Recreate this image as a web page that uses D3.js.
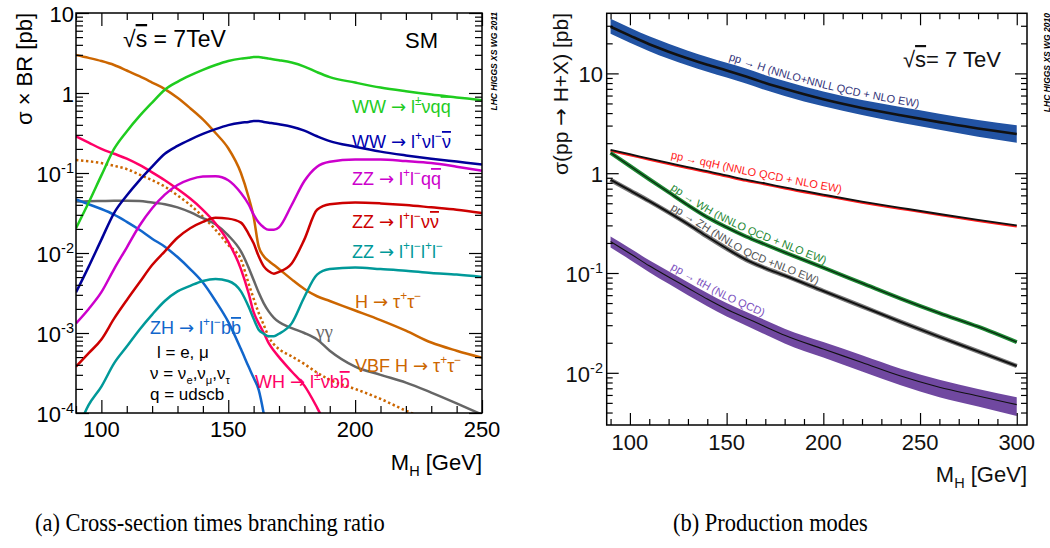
<!DOCTYPE html>
<html>
<head>
<meta charset="utf-8">
<script src="https://cdn.jsdelivr.net/npm/d3@7"></script>
<style>
  body { margin: 0; background: #fff; }
  text { font-family: "Liberation Sans", Arial, Helvetica, sans-serif; }
</style>
</head>
<body>
<svg id="chart" width="1050" height="548"></svg>
<script>
// ---- left panel: sigma x BR, 7 TeV ----
const massL = [90, 95, 100, 105, 110, 115, 120, 125, 130, 135, 140, 145, 150, 155, 158, 160, 162, 164, 166, 168, 170, 175, 180, 185, 190, 200, 210, 220, 230, 240, 250];
const wwLnuqq = [0.0204, 0.0427, 0.0933, 0.200, 0.331, 0.513, 0.759, 1.10, 1.38, 1.66, 1.95, 2.24, 2.51, 2.69, 2.75, 2.82, 2.82, 2.75, 2.69, 2.63, 2.57, 2.40, 2.14, 1.82, 1.58, 1.35, 1.17, 1.05, 0.955, 0.881, 0.813];
const wwLnulnu = [0.00322, 0.00675, 0.0147, 0.0316, 0.0523, 0.081, 0.12, 0.174, 0.218, 0.262, 0.308, 0.354, 0.397, 0.425, 0.435, 0.446, 0.446, 0.435, 0.425, 0.416, 0.406, 0.379, 0.338, 0.288, 0.25, 0.213, 0.185, 0.166, 0.151, 0.139, 0.128];
const zzLLqq = [0.00132, 0.002, 0.00324, 0.0063, 0.0117, 0.0219, 0.0363, 0.0537, 0.0708, 0.0832, 0.0902, 0.0912, 0.0813, 0.0562, 0.0407, 0.0302, 0.024, 0.0209, 0.0195, 0.0195, 0.0209, 0.0398, 0.0794, 0.12, 0.138, 0.148, 0.148, 0.141, 0.133, 0.12, 0.107];
const zzLLnunu = [0.00038, 0.00056, 0.00083, 0.00151, 0.00257, 0.00427, 0.00708, 0.0105, 0.0155, 0.0204, 0.0245, 0.0275, 0.0269, 0.024, 0.0174, 0.0132, 0.0091, 0.0068, 0.0059, 0.0055, 0.0058, 0.0074, 0.0148, 0.0347, 0.0407, 0.0427, 0.0417, 0.0398, 0.0372, 0.0347, 0.0316];
const zz4l = [0.0000562, 0.000126, 0.000214, 0.000417, 0.000676, 0.0011, 0.0017, 0.00251, 0.00331, 0.00389, 0.00447, 0.00473, 0.00447, 0.00331, 0.00214, 0.00151, 0.0011, 0.00098, 0.00091, 0.00091, 0.00098, 0.00132, 0.00282, 0.00537, 0.0063, 0.0066, 0.0063, 0.006, 0.00562, 0.00537, 0.00501];
const hTauTau = [2.99, 2.75, 2.51, 2.24, 1.91, 1.62, 1.35, 1.12, 0.871, 0.646, 0.468, 0.316, 0.204, 0.1, 0.0501, 0.0282, 0.012, 0.00912, 0.00794, 0.00708, 0.00631, 0.00468, 0.00355, 0.00288, 0.00251, 0.00191, 0.00145, 0.00107, 0.00076, 0.0006, 0.00049];
const vbfTauTau = [0.145, 0.14, 0.133, 0.123, 0.112, 0.0955, 0.0813, 0.0676, 0.0525, 0.0398, 0.0285, 0.0195, 0.0126, 0.0083, 0.00417, 0.00269, 0.00178, 0.00126, 0.00089, 0.00072, 0.00063, 0.00051, 0.00041, 0.00032, 0.00026, 0.0002, 0.00015, 0.000107, 0.0000794, 0.000063, 0.00005];
const gamgam = [0.0439, 0.0445, 0.0447, 0.0449, 0.0449, 0.0447, 0.0427, 0.0407, 0.0372, 0.0324, 0.0272, 0.0229, 0.0166, 0.0105, 0.0066, 0.0046, 0.0032, 0.00235, 0.00185, 0.00155, 0.00137, 0.00115, 0.001, 0.00083, 0.0006, 0.00038, 0.0003, 0.00024, 0.00018, 0.000132, 0.0000955];
const zhLLbb = [0.0468, 0.0407, 0.0355, 0.0302, 0.0245, 0.0195, 0.0151, 0.012, 0.0089, 0.0063, 0.00427, 0.00251, 0.00138, 0.00063, 0.00038, 0.000275, 0.000195, 0.0000977, 0.00004, 0.000016, null, null, null, null, null, null, null, null, null, null, null];
const whLnubb = [0.288, 0.24, 0.2, 0.174, 0.151, 0.126, 0.102, 0.0813, 0.0631, 0.0479, 0.0347, 0.0234, 0.0138, 0.0063, 0.00316, 0.00182, 0.00132, 0.001, 0.00074, 0.0006, 0.0005, 0.00033, 0.00022, 0.000117, 0.000056, null, null, null, null, null, null];

// ---- right panel: production modes, 7 TeV ----
const massR = [90, 100, 110, 120, 130, 140, 150, 160, 170, 180, 200, 220, 240, 260, 280, 300];
const ggH = [29.3, 23.9, 19.6, 16.5, 14.1, 12.2, 10.7, 9.3, 8.0, 7.0, 5.5, 4.5, 3.8, 3.25, 2.8, 2.47];
const ggHUp = [35.2, 28.7, 23.5, 19.8, 16.9, 14.6, 12.8, 11.2, 9.6, 8.4, 6.6, 5.4, 4.6, 3.95, 3.42, 3.02];
const ggHDn = [24.9, 20.3, 16.7, 14.0, 12.0, 10.4, 9.1, 7.9, 6.8, 5.95, 4.68, 3.83, 3.2, 2.72, 2.32, 2.02];
const qqH = [1.71, 1.55, 1.40, 1.27, 1.15, 1.05, 0.95, 0.86, 0.79, 0.72, 0.61, 0.52, 0.45, 0.39, 0.34, 0.30];
const WH = [1.6, 1.18, 0.87, 0.645, 0.478, 0.362, 0.287, 0.232, 0.193, 0.161, 0.113, 0.0792, 0.0555, 0.0397, 0.029, 0.0203];
const ZH = [0.857, 0.671, 0.525, 0.405, 0.309, 0.232, 0.176, 0.136, 0.112, 0.0944, 0.066, 0.0463, 0.0324, 0.0229, 0.0164, 0.0117];
const ttH = [0.207, 0.157, 0.118, 0.0912, 0.0708, 0.0548, 0.0434, 0.0355, 0.029, 0.0238, 0.0173, 0.0127, 0.00927, 0.00716, 0.00586, 0.0048];
const ttHUp = [0.232, 0.177, 0.134, 0.104, 0.081, 0.063, 0.050, 0.041, 0.0337, 0.0277, 0.0203, 0.0150, 0.0110, 0.0085, 0.0069, 0.0057];
const ttHDn = [0.180, 0.136, 0.102, 0.078, 0.060, 0.0465, 0.0366, 0.0298, 0.0242, 0.0197, 0.0142, 0.0103, 0.0075, 0.0057, 0.0046, 0.0037];

const xMajorL = [100, 150, 200, 250];
const xMajorR = [100, 150, 200, 250, 300];
const yMajorL = [10, 1, 0.1, 0.01, 0.001, 0.0001];
const yMajorR = [10, 1, 0.1, 0.01];
const yLabelsL = ['10', '1', '10^{-1}', '10^{-2}', '10^{-3}', '10^{-4}'];
const yLabelsR = ['10', '1', '10^{-1}', '10^{-2}'];

const svg = d3.select('#chart');

// small markup: ^{} superscript, _{} subscript, ~{} overline, arrows in DejaVu
function rich(t, str, fs) {
  const re = /([\^_~])\{([^}]*)\}|(→)|([^\^_~→]+)/g;
  let m, cur = 0;
  while ((m = re.exec(str)) !== null) {
    let off = 0, size = fs, txt = m[4], bar = false, arrow = false;
    if (m[1]) {
      txt = m[2];
      if (m[1] === '^') { off = -0.42 * fs; size = 0.66 * fs; }
      else if (m[1] === '_') { off = 0.28 * fs; size = 0.66 * fs; }
      else bar = true;
    } else if (m[3]) { txt = m[3]; arrow = true; }
    const ts = t.append('tspan').text(txt).attr('dy', off - cur).style('font-size', size + 'px');
    if (bar) ts.style('text-decoration', 'overline');
    if (arrow) ts.style('font-family', '"DejaVu Sans", sans-serif');
    cur = off;
  }
}

function label(x, y, str, fs, color, anchor) {
  const t = svg.append('text').attr('x', x).attr('y', y)
    .attr('fill', color || '#000').style('font-size', fs + 'px')
    .attr('text-anchor', anchor || 'start');
  rich(t, str, fs);
  return t;
}

function minorLog(lo, hi) {
  const out = [];
  for (let e = Math.floor(Math.log10(lo)); e <= Math.ceil(Math.log10(hi)); e++)
    for (let k = 2; k <= 9; k++) {
      const v = k * Math.pow(10, e);
      if (v > lo && v < hi) out.push(v);
    }
  return out;
}

function yMajorOf(y) {
  const [lo, hi] = y.domain();
  return [1e-4, 1e-3, 1e-2, 0.1, 1, 10].filter(v => v >= lo * 0.999 && v <= hi * 1.001);
}

function frame(g, x, y, xMajor, xMinor, yMinor, big, small) {
  const [x0, x1] = x.range(), [y1, y0] = y.range();
  const ax = [
    [d3.axisBottom(x), `translate(0,${y1})`, xMajor, xMinor],
    [d3.axisTop(x), `translate(0,${y0})`, xMajor, xMinor],
    [d3.axisLeft(y), `translate(${x0},0)`, yMajorOf(y), yMinor],
    [d3.axisRight(y), `translate(${x1},0)`, yMajorOf(y), yMinor]
  ];
  ax.forEach(([a, tr, maj, min]) => {
    g.append('g').attr('transform', tr).call(a.tickValues(maj).tickSize(-big).tickFormat(''))
      .call(s => s.select('.domain').remove());
    g.append('g').attr('transform', tr).call(a.tickValues(min).tickSize(-small).tickFormat(''))
      .call(s => s.select('.domain').remove());
  });
  g.selectAll('.tick line').attr('stroke', '#000').attr('stroke-width', 1.2);
  g.append('rect').attr('x', x0).attr('y', y0).attr('width', x1 - x0).attr('height', y1 - y0)
    .attr('fill', 'none').attr('stroke', '#000').attr('stroke-width', 1.5);
}

// ================= LEFT PANEL =================
const xL = d3.scaleLinear().domain([90, 250]).range([76, 482]);
const yL = d3.scaleLog().domain([1e-4, 10]).range([413, 13]);

svg.append('clipPath').attr('id', 'clipL').append('rect')
  .attr('x', 76).attr('y', 13).attr('width', 406).attr('height', 400);

const lineL = d3.line().defined(d => d[1] != null)
  .x(d => xL(d[0])).y(d => yL(d[1])).curve(d3.curveMonotoneX);

const curvesL = [
  [hTauTau, '#cc6600', null],
  [vbfTauTau, '#cc6600', '2.4,2.6'],
  [gamgam, '#666666', null],
  [zhLLbb, '#1166cc', null],
  [whLnubb, '#ff0066', null],
  [zz4l, '#009999', null],
  [zzLLnunu, '#cc0000', null],
  [zzLLqq, '#cc00cc', null],
  [wwLnulnu, '#000099', null],
  [wwLnuqq, '#1fcc1f', null]
];
const gL = svg.append('g').attr('clip-path', 'url(#clipL)');
curvesL.forEach(([vals, col, dash]) => {
  gL.append('path').datum(massL.map((m, i) => [m, vals[i]]))
    .attr('d', lineL).attr('fill', 'none').attr('stroke', col)
    .attr('stroke-width', 2.5).attr('stroke-dasharray', dash);
});

frame(svg.append('g'), xL, yL, xMajorL, d3.range(90, 251, 10).filter(v => v % 50),
  minorLog(1e-4, 10), 13, 7);

xMajorL.forEach(v => label(xL(v), 437, String(v), 22, '#000', 'middle'));
yMajorL.forEach((v, i) => label(74, yL(v) + 9, yLabelsL[i], 22, '#000', 'end'));

rich(svg.append('text').attr('transform', 'translate(32,13) rotate(-90)').attr('text-anchor', 'end')
  .style('font-size', '22px'), 'σ × BR [pb]', 22);
label(482, 470, 'M_{H} [GeV]', 22, '#000', 'end');
svg.append('text').attr('transform', 'translate(497,12) rotate(-90)').attr('text-anchor', 'end')
  .style('font-size', '8.5px').style('font-weight', 'bold').style('font-style', 'italic')
  .text('LHC HIGGS XS WG 2011');

label(123, 47, '√~{s} = 7TeV', 23);
label(405, 48, 'SM', 22);
label(352, 113, 'WW → l^{±}νq~{q}', 18, '#1fcc1f');
label(352, 148, 'WW → l^{+}νl^{−}~{ν}', 18, '#0000b0');
label(352, 185, 'ZZ → l^{+}l^{−}q~{q}', 18, '#cc00cc');
label(352, 228, 'ZZ → l^{+}l^{−}ν~{ν}', 18, '#cc0000');
label(352, 258, 'ZZ → l^{+}l^{−}l^{+}l^{−}', 18, '#009999');
label(355, 308, 'H → τ^{+}τ^{−}', 18, '#cc6600');
label(355, 372, 'VBF H → τ^{+}τ^{−}', 18, '#cc6600');
label(316, 338, 'γγ', 19, '#666666').style('font-family', '"Liberation Serif", serif');
label(150, 334, 'ZH → l^{+}l^{−}b~{b}', 18, '#1166cc');
label(255, 388, 'WH → l^{±}νb~{b}', 18, '#ff0066');
label(157, 358, 'l = e, μ', 17);
label(150, 379, 'ν = ν_{e},ν_{μ},ν_{τ}', 17);
label(150, 400, 'q = udscb', 17);

// ================= RIGHT PANEL =================
const xR = d3.scaleLinear().domain([88, 305.3]).range([606.7, 1027]);
const yR = d3.scaleLog().domain([0.003, 40]).range([425, 13.3]);

svg.append('clipPath').attr('id', 'clipR').append('rect')
  .attr('x', 606.7).attr('y', 13.3).attr('width', 420.3).attr('height', 411.7);
const gR = svg.append('g').attr('clip-path', 'url(#clipR)');

const lineR = d3.line().x(d => xR(d[0])).y(d => yR(d[1])).curve(d3.curveMonotoneX);
const areaR = d3.area().x(d => xR(d[0])).y0(d => yR(d[1])).y1(d => yR(d[2])).curve(d3.curveMonotoneX);
const pts = vals => massR.map((m, i) => [m, vals[i]]);
const band = (dn, up) => massR.map((m, i) => [m, dn[i], up[i]]);

gR.append('path').datum(band(ggHDn, ggHUp)).attr('d', areaR).attr('fill', '#2253a3');
gR.append('path').datum(pts(ggH)).attr('d', lineR).attr('fill', 'none').attr('stroke', '#111').attr('stroke-width', 2.6);

gR.append('path').datum(pts(qqH)).attr('d', lineR).attr('fill', 'none').attr('stroke', '#ff1a1a')
  .attr('stroke-width', 2.2).attr('transform', 'translate(0,1)');
gR.append('path').datum(pts(qqH)).attr('d', lineR).attr('fill', 'none').attr('stroke', '#111').attr('stroke-width', 1.8);

gR.append('path').datum(pts(WH)).attr('d', lineR).attr('fill', 'none').attr('stroke', '#1f8a35').attr('stroke-width', 4);
gR.append('path').datum(pts(WH)).attr('d', lineR).attr('fill', 'none').attr('stroke', '#0a2a10').attr('stroke-width', 1.3);

gR.append('path').datum(pts(ZH)).attr('d', lineR).attr('fill', 'none').attr('stroke', '#777').attr('stroke-width', 4.5);
gR.append('path').datum(pts(ZH)).attr('d', lineR).attr('fill', 'none').attr('stroke', '#111').attr('stroke-width', 2);

gR.append('path').datum(band(ttHDn, ttHUp)).attr('d', areaR).attr('fill', '#7048a0');
gR.append('path').datum(pts(ttH)).attr('d', lineR).attr('fill', 'none').attr('stroke', '#111').attr('stroke-width', 1.1);

frame(svg.append('g'), xR, yR, xMajorR, d3.range(90, 301, 10).filter(v => v % 50),
  minorLog(0.003, 40), 12, 6);

xMajorR.forEach(v => label(xR(v), 450, String(v), 22, '#111', 'middle'));
yMajorR.forEach((v, i) => label(603, yR(v) + 9, yLabelsR[i], 22, '#111', 'end'));

rich(svg.append('text').attr('transform', 'translate(568,13) rotate(-90)').attr('text-anchor', 'end')
  .style('font-size', '21px').attr('fill', '#111'), 'σ(pp → H+X) [pb]', 21);
label(1027, 482, 'M_{H} [GeV]', 22, '#111', 'end');
svg.append('text').attr('transform', 'translate(1049.5,13) rotate(-90)').attr('text-anchor', 'end')
  .style('font-size', '8.5px').style('font-weight', 'bold').style('font-style', 'italic')
  .text('LHC HIGGS XS WG 2010');
label(903, 67, '√~{s}= 7 TeV', 22, '#111');

// curve labels running along the curves
const curveLabels = [
  ['pp → H (NNLO+NNLL QCD + NLO EW)', ggH, '#34357a', 150, 11],
  ['pp → qqH (NNLO QCD + NLO EW)', qqH, '#ff2020', 120, 5],
  ['pp → WH (NNLO QCD + NLO EW)', WH, '#1f8a35', 120, 4],
  ['pp → ZH (NNLO QCD +NLO EW)', ZH, '#555555', 120, 4],
  ['pp → ttH (NLO QCD)', ttH, '#7d52c0', 120, 9]
];
const defs = svg.append('defs');
curveLabels.forEach(([txt, vals, col, m0, off], i) => {
  const p = pts(vals).filter(d => d[0] >= m0);
  defs.append('path').attr('id', 'lab' + i)
    .attr('d', d3.line().x(d => xR(d[0])).y(d => yR(d[1]) - off).curve(d3.curveMonotoneX)(p));
  svg.append('text').style('font-size', '11px').attr('fill', col)
    .append('textPath').attr('href', '#lab' + i).attr('startOffset', 2).text(txt);
});

// captions
const serif = '"Liberation Serif", "Times New Roman", serif';
svg.append('text').attr('transform', 'translate(35,531) scale(0.9,1)').style('font-family', serif)
  .style('font-size', '25px').text('(a) Cross-section times branching ratio');
svg.append('text').attr('transform', 'translate(673,531) scale(0.9,1)').style('font-family', serif)
  .style('font-size', '25px').text('(b) Production modes');
</script>
</body>
</html>
